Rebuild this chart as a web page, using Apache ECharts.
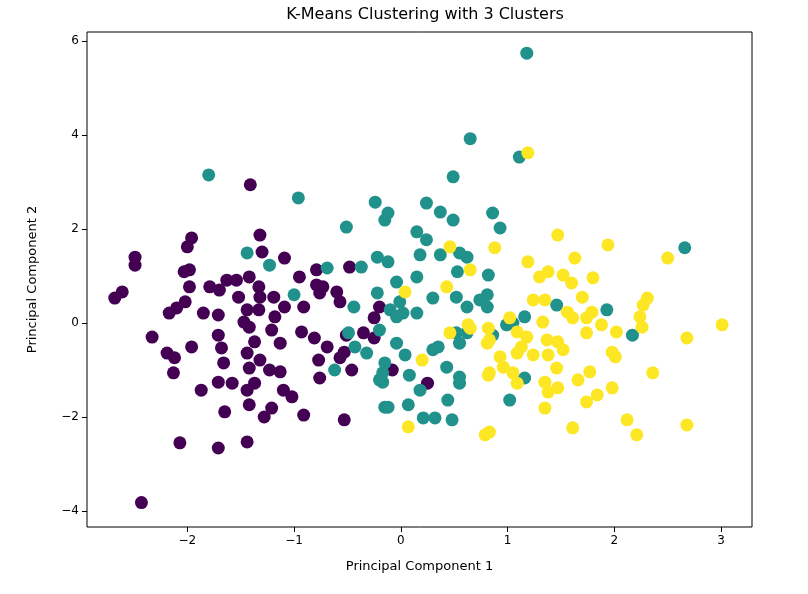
<!DOCTYPE html>
<html>
<head>
<meta charset="utf-8">
<script src="https://cdn.jsdelivr.net/npm/echarts@6/dist/echarts.min.js"></script>
<style>html,body{margin:0;padding:0;background:#fff}</style>
</head>
<body>
<div id="main" style="width:808px;height:594px"></div>
<script>
// cluster 0 (purple)
const cluster0 = [
  [-1.41,2.94],[-1.96,1.81],[-2.0,1.62],[-2.49,1.4],[-2.49,1.23],[-1.32,1.87],[-1.30,1.51],[-1.09,1.38],
  [-1.98,1.13],[-2.03,1.09],[-2.61,0.66],[-2.68,0.53],[-1.98,0.77],[-1.79,0.77],[-1.63,0.91],[-1.54,0.91],
  [-1.42,0.98],[-1.33,0.77],[-1.70,0.70],[-1.52,0.55],[-1.32,0.55],[-1.19,0.55],[-0.95,0.98],[-0.79,1.13],
  [-0.79,0.81],[-0.76,0.64],[-0.60,0.66],[-0.57,0.45],[-0.48,1.19],[-2.02,0.45],[-2.10,0.32],[-2.17,0.21],
  [-1.85,0.21],[-1.71,0.17],[-1.44,0.28],[-1.33,0.28],[-1.09,0.34],[-0.91,0.34],[-1.18,0.13],[-1.47,0.02],
  [-1.42,-0.09],[-2.33,-0.30],[-1.71,-0.26],[-1.21,-0.15],[-0.93,-0.19],[-0.81,-0.32],[-0.69,-0.51],[-0.51,-0.26],
  [-0.35,-0.21],[-0.25,-0.32],[-0.25,0.11],[-0.20,0.34],[-1.96,-0.51],[-1.68,-0.53],[-1.37,-0.40],[-1.13,-0.43],
  [-2.19,-0.64],[-2.12,-0.74],[-1.44,-0.64],[-1.32,-0.79],[-0.53,-0.62],[-0.57,-0.74],[-1.66,-0.85],[-0.77,-0.79],
  [-2.13,-1.06],[-1.42,-0.96],[-1.23,-1.00],[-1.13,-1.04],[-0.46,-1.00],[-0.76,-1.17],[-1.71,-1.26],[-1.58,-1.28],
  [-1.37,-1.28],[-1.44,-1.43],[-1.87,-1.43],[-1.10,-1.43],[-1.02,-1.57],[-1.42,-1.74],[-1.65,-1.89],[-1.21,-1.81],
  [-1.28,-2.0],[-0.91,-1.96],[-0.53,-2.06],[-2.07,-2.55],[-1.71,-2.66],[-1.44,-2.53],[-2.43,-3.82],
  [-0.73,0.77],[-0.08,-1.0],[0.25,-1.28]
];
// cluster 1 (teal)
const cluster1 = [
  [-1.80,3.15],[-0.96,2.66],[-1.44,1.49],[-1.23,1.23],[-0.51,2.04],[-0.24,2.57],[-0.69,1.17],[-1.0,0.6],
  [-0.44,0.34],[-0.22,0.64],[-0.49,-0.21],[-0.43,-0.51],[-0.32,-0.64],[-0.62,-1.0],[-0.2,-1.21],[-0.15,-1.79],
  [0.49,3.11],[-0.12,2.34],[-0.15,2.19],[0.24,2.55],[0.37,2.36],[0.49,2.19],[0.86,2.34],[0.93,2.02],
  [0.15,1.94],[0.24,1.77],[0.18,1.45],[0.37,1.45],[0.55,1.49],[0.62,1.4],[-0.22,1.4],[-0.12,1.3],
  [-0.37,1.19],[0.53,1.09],[0.82,1.02],[0.15,0.98],[-0.04,0.87],[0.30,0.53],[0.52,0.55],[0.62,0.34],
  [0.74,0.49],[0.81,0.6],[0.81,0.34],[-0.01,0.45],[-0.10,0.28],[-0.04,0.13],[0.02,0.21],[0.15,0.21],
  [-0.2,-0.15],[-0.04,-0.43],[0.35,-0.51],[0.30,-0.57],[0.52,-0.21],[0.55,-0.43],[0.62,-0.21],[0.86,-0.26],
  [0.99,-0.04],[1.05,0.0],[1.16,0.13],[1.46,0.38],[0.04,-0.68],[-0.15,-0.85],[-0.17,-1.06],[-0.17,-1.26],
  [0.08,-1.11],[0.18,-1.43],[0.43,-0.94],[0.55,-1.15],[0.55,-1.28],[0.44,-1.64],[0.07,-1.74],[-0.12,-1.79],
  [0.21,-2.02],[0.32,-2.02],[0.48,-2.06],[1.02,-1.64],[1.16,-1.17],[1.11,3.53],[0.65,3.92],[1.18,5.74],
  [2.66,1.6],[1.93,0.28],[2.17,-0.26]
];
// cluster 2 (yellow)
const cluster2 = [
  [1.47,1.87],[1.94,1.66],[0.88,1.6],[1.19,1.3],[1.63,1.38],[2.50,1.38],[1.30,0.98],[1.38,1.09],
  [1.52,1.02],[1.60,0.85],[1.80,0.96],[0.65,1.13],[2.31,0.53],[2.27,0.38],[2.24,0.13],[2.26,-0.09],
  [1.24,0.49],[1.35,0.49],[1.70,0.55],[1.56,0.23],[1.61,0.11],[1.74,0.11],[1.79,0.23],[1.88,-0.04],
  [1.74,-0.21],[2.02,-0.19],[1.33,0.02],[1.02,0.11],[1.09,-0.19],[1.18,-0.30],[1.13,-0.51],[1.37,-0.36],
  [1.47,-0.40],[1.52,-0.57],[1.24,-0.68],[1.38,-0.68],[1.09,-0.64],[0.93,-0.72],[0.96,-0.94],[0.83,-0.36],
  [0.65,-0.11],[0.82,-1.11],[1.05,-1.06],[1.09,-1.28],[1.35,-1.26],[1.38,-1.47],[1.47,-1.38],[1.46,-0.96],
  [1.66,-1.21],[1.77,-1.04],[1.98,-0.62],[2.01,-0.72],[1.98,-1.38],[1.84,-1.53],[1.74,-1.68],[2.36,-1.06],
  [2.68,-0.32],[3.01,-0.04],[1.35,-1.81],[1.61,-2.23],[2.12,-2.06],[2.21,-2.38],[2.68,-2.17],[0.83,-2.32],
  [0.79,-2.38],[0.04,0.66],[0.43,0.77],[0.20,-0.79],[0.07,-2.21],[0.83,-1.06],[0.63,-0.04],[0.46,-0.21],
  [0.82,-0.11],[0.81,-0.43],[1.19,3.62],[0.46,1.62]
];
const xTicks = [-2, -1, 0, 1, 2, 3];
const yTicks = [-4, -2, 0, 2, 4, 6];

const fmt = v => String(v).replace('-', '\u2212');
const font = 'DejaVu Sans';
let myChart = echarts.init(document.getElementById('main'));
const mk = (data, color) => ({
  type: 'scatter', data: data, symbolSize: 13,
  itemStyle: { color: color, opacity: 1 }
});
myChart.setOption({
  animation: false,
  title: { text: 'K-Means Clustering with 3 Clusters', left: 420, top: 2, textAlign: 'center',
    textStyle: { fontFamily: font, fontWeight: 'normal', fontSize: 16, color: '#000' } },
  grid: { left: 87, right: 56, top: 32, bottom: 67, show: true, borderColor: '#000', borderWidth: 1 },
  xAxis: {
    type: 'value', min: -2.94, max: 3.29,
    name: 'Principal Component 1', nameLocation: 'middle', nameGap: 33,
    nameTextStyle: { fontFamily: font, fontSize: 13, color: '#000' },
    axisLine: { show: false, onZero: false }, splitLine: { show: false },
    axisTick: { show: true, length: 5, lineStyle: { color: '#000' }, customValues: xTicks },
    axisLabel: { fontFamily: font, fontSize: 12, color: '#000', customValues: xTicks, formatter: fmt }
  },
  yAxis: {
    type: 'value', min: -4.34, max: 6.19,
    name: 'Principal Component 2', nameLocation: 'middle', nameGap: 48,
    nameTextStyle: { fontFamily: font, fontSize: 13, color: '#000' },
    axisLine: { show: false, onZero: false }, splitLine: { show: false },
    axisTick: { show: true, length: 5, lineStyle: { color: '#000' }, customValues: yTicks },
    axisLabel: { fontFamily: font, fontSize: 12, color: '#000', customValues: yTicks, formatter: fmt }
  },
  series: [mk(cluster0, '#440154'), mk(cluster1, '#21918c'), mk(cluster2, '#fde725')]
});
</script>
</body>
</html>
